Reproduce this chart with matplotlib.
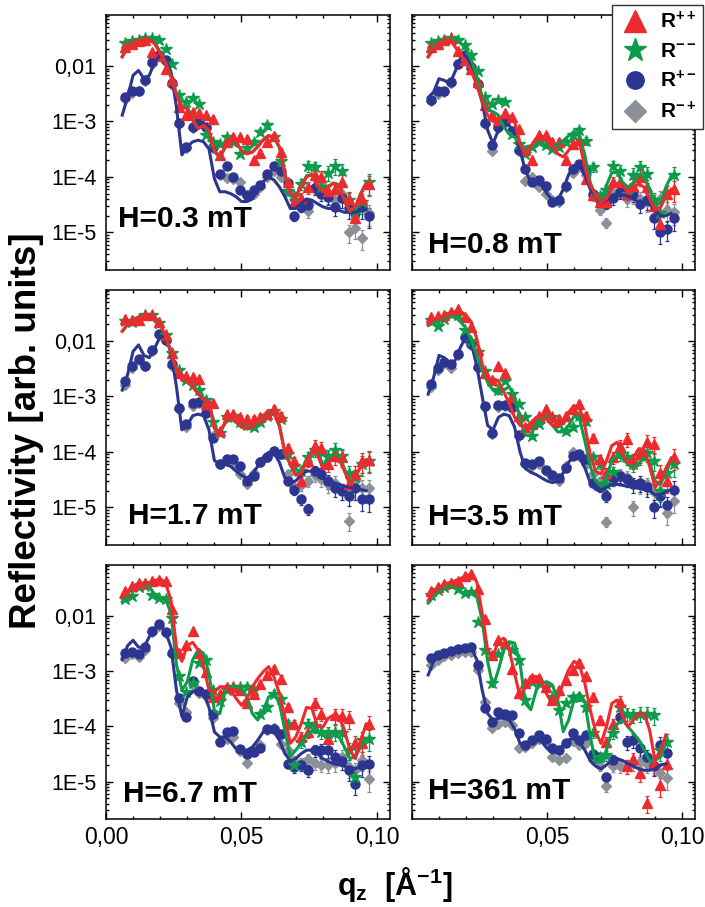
import numpy as np
import matplotlib
matplotlib.use('Agg')
from matplotlib import pyplot as plt
from matplotlib.lines import Line2D
from matplotlib.ticker import MultipleLocator, LogLocator, NullFormatter

plt.rcParams['font.family'] = ['Liberation Sans', 'DejaVu Sans']
plt.rcParams['mathtext.fontset'] = 'custom'
plt.rcParams['mathtext.rm'] = 'Liberation Sans'
plt.rcParams['mathtext.bf'] = 'Liberation Sans:bold'

nan = float('nan')

# measured q grid (data) and grid of the fitted curves
q = [0.0070, 0.0095, 0.0120, 0.0145, 0.0170, 0.0195, 0.0220, 0.0245, 0.0270, 0.0295,
     0.0320, 0.0345, 0.0370, 0.0395, 0.0420, 0.0445, 0.0470, 0.0495, 0.0520, 0.0545,
     0.0570, 0.0595, 0.0620, 0.0645, 0.0670, 0.0695, 0.0720, 0.0745, 0.0770, 0.0795,
     0.0820, 0.0845, 0.0870, 0.0895, 0.0920, 0.0945, 0.0970]
qf = [0.006, 0.008, 0.010, 0.012, 0.014, 0.016, 0.018, 0.020, 0.022, 0.024,
      0.026, 0.028, 0.030, 0.032, 0.034, 0.036, 0.038, 0.040, 0.042, 0.044,
      0.046, 0.048, 0.050, 0.052, 0.054, 0.056, 0.058, 0.060, 0.062, 0.064,
      0.066, 0.068, 0.070, 0.072, 0.074, 0.076, 0.078, 0.080, 0.082, 0.084,
      0.086, 0.088, 0.090, 0.092, 0.094, 0.096]
# relative error of the points
rel_err = [0.02, 0.02, 0.02, 0.02, 0.02, 0.02, 0.02, 0.02, 0.03, 0.03, 0.03, 0.03, 0.04,
           0.05, 0.06, 0.07, 0.08, 0.09, 0.10, 0.11, 0.12, 0.13, 0.14, 0.15, 0.17, 0.19,
           0.21, 0.23, 0.25, 0.27, 0.29, 0.31, 0.33, 0.35, 0.37, 0.39, 0.40]

fields = ['H=0.3 mT', 'H=0.8 mT', 'H=1.7 mT', 'H=3.5 mT', 'H=6.7 mT', 'H=361 mT']

########## H = 0.3 mT ##########
pp_1 = [2.2e-2, 2.5e-2, 2.8e-2, 3.0e-2, 1.8e-2, 1.5e-2, 9.0e-3, 5.5e-3, 1.8e-3, 1.3e-3, 1.5e-3, 1.4e-3, 1.3e-3, 1.1e-3, 2.5e-4, 4.2e-4, 5.3e-4, 5.3e-4, 4.8e-4, 2.0e-4, 2.7e-4, 4.2e-4, 5.5e-4, 2.8e-4, 8.0e-5, 3.5e-5, 4.2e-5, 6.5e-5, 1.1e-4, 1.0e-4, 5.5e-5, 6.0e-5, 8.0e-5, 4.0e-5, 1.8e-5, 4.0e-5, 7.5e-5]
mm_1 = [2.6e-2, 2.8e-2, 3.0e-2, 3.2e-2, 3.2e-2, 3.0e-2, 2.0e-2, 1.1e-2, 3.0e-3, 2.2e-3, 2.7e-3, 2.1e-3, 5.8e-4, 4.3e-4, 4.0e-4, 5.3e-4, 4.3e-4, 2.6e-4, 3.3e-4, 4.3e-4, 6.5e-4, 8.5e-4, 5.3e-4, 1.9e-4, 5.5e-5, 4.5e-5, 7.5e-5, 1.6e-4, 1.5e-4, 6.5e-5, 1.2e-4, 1.6e-4, 1.3e-4, 3.8e-5, 2.2e-5, 3.5e-5, 8.0e-5]
pm_1 = [2.8e-3, 3.5e-3, 3.5e-3, 5.5e-3, 1.2e-2, 1.6e-2, 1.3e-2, 4.9e-3, 9.3e-4, 3.5e-4, 8.1e-4, 1.0e-3, 8.1e-4, 3.5e-4, 1.15e-4, 1.6e-4, 1.0e-4, 5.8e-5, 4.7e-5, 5.8e-5, 7.1e-5, 1.15e-4, 1.6e-4, 1.3e-4, 7.8e-5, 2.0e-5, 2.9e-5, 3.1e-5, 6.2e-5, 5.0e-5, 4.4e-5, 2.9e-5, 4.1e-5, 2.7e-5, 2.2e-5, 2.9e-5, 2.0e-5]
mp_1 = [2.5e-3, 3.2e-3, 3.5e-3, 5.3e-3, 1.1e-2, 1.5e-2, 1.2e-2, 4.5e-3, 9.0e-4, 3.3e-4, 7.5e-4, 1.0e-3, 7.5e-4, 3.3e-4, 1.1e-4, 9.5e-5, 9.0e-5, 8.0e-5, 4.5e-5, 5.0e-5, 6.5e-5, 1.0e-4, 1.3e-4, 1.0e-4, 5.5e-5, 4.0e-5, 3.5e-5, 2.4e-5, 6.5e-5, 7.5e-5, 4.5e-5, 3.8e-5, 5.0e-5, 1.0e-5, 1.2e-5, 8.0e-6, 2.2e-5]
fit_pp_1 = [1.45e-2, 2.2e-2, 2.6e-2, 2.8e-2, 3.0e-2, 3.0e-2, 2.5e-2, 1.7e-2, 1.1e-2, 6.3e-3, 3.0e-3, 1.8e-3, 1.7e-3, 1.05e-3, 7.4e-4, 8.5e-4, 6.9e-4, 3.0e-4, 2.3e-4, 3.5e-4, 4.6e-4, 4.3e-4, 3.0e-4, 2.6e-4, 2.8e-4, 3.5e-4, 4.7e-4, 5.6e-4, 5.2e-4, 3.5e-4, 1.15e-4, 5.0e-5, 4.4e-5, 6.6e-5, 1.0e-4, 1.1e-4, 7.0e-5, 5.4e-5, 6.6e-5, 7.6e-5, 7.0e-5, 3.8e-5, 2.5e-5, 2.9e-5, 5.0e-5, 7.6e-5]
fit_mm_1 = [1.5e-2, 2.2e-2, 2.6e-2, 2.9e-2, 3.1e-2, 3.1e-2, 2.6e-2, 1.8e-2, 1.15e-2, 6.5e-3, 3.2e-3, 1.9e-3, 1.8e-3, 1.1e-3, 7.6e-4, 8.3e-4, 6.6e-4, 2.9e-4, 2.2e-4, 3.4e-4, 4.5e-4, 4.2e-4, 3.0e-4, 2.7e-4, 2.8e-4, 3.5e-4, 4.6e-4, 5.5e-4, 5.1e-4, 3.4e-4, 1.1e-4, 5.0e-5, 4.5e-5, 6.8e-5, 1.05e-4, 1.1e-4, 7.2e-5, 5.5e-5, 6.8e-5, 7.8e-5, 7.2e-5, 3.8e-5, 2.4e-5, 2.8e-5, 5.0e-5, 7.8e-5]
fit_pm_1 = [1.3e-3, 2.8e-3, 6.8e-3, 8.3e-3, 5.9e-3, 6.8e-3, 1.2e-2, 1.55e-2, 1.3e-2, 7.8e-3, 1.8e-3, 2.5e-4, 3.5e-4, 4.3e-4, 4.6e-4, 4.3e-4, 3.2e-4, 9.3e-5, 5.4e-5, 5.4e-5, 5.0e-5, 4.4e-5, 3.6e-5, 3.6e-5, 4.0e-5, 5.8e-5, 8.2e-5, 1.0e-4, 8.8e-5, 6.6e-5, 4.4e-5, 2.7e-5, 2.7e-5, 3.3e-5, 4.0e-5, 3.8e-5, 3.3e-5, 2.9e-5, 2.7e-5, 2.7e-5, 2.5e-5, 2.3e-5, 2.3e-5, 2.3e-5, 2.5e-5, 2.6e-5]

########## H = 0.8 mT ##########
pp_2 = [2.2e-2, 2.5e-2, 2.9e-2, 3.2e-2, 1.9e-2, 1.3e-2, 9.0e-3, 5.1e-3, 2.0e-3, 1.3e-3, 1.05e-3, 1.4e-3, 1.2e-3, 7.4e-4, 3.0e-4, 2.0e-4, 5.6e-4, 5.8e-4, 4.3e-4, 4.3e-4, 2.0e-4, 4.0e-4, 4.7e-4, 9.0e-5, 4.7e-5, 3.5e-5, 3.5e-5, 8.0e-5, 8.0e-5, 5.0e-5, 7.0e-5, 1.0e-4, 6.5e-5, 3.0e-5, 1.4e-5, 5.0e-5, 6.0e-5]
mm_2 = [2.6e-2, 2.8e-2, 3.0e-2, 3.2e-2, 2.9e-2, 2.4e-2, 1.6e-2, 8.0e-3, 2.8e-3, 2.1e-3, 2.4e-3, 2.2e-3, 6.0e-4, 4.0e-4, 2.6e-4, 3.5e-4, 4.3e-4, 3.7e-4, 3.2e-4, 3.5e-4, 4.3e-4, 5.6e-4, 7.0e-4, 4.5e-4, 1.5e-4, 4.5e-5, 5.8e-5, 1.6e-4, 1.3e-4, 5.0e-5, 1.1e-4, 1.5e-4, 1.15e-4, 3.8e-5, 2.2e-5, 5.0e-5, 1.1e-4]
pm_2 = [2.4e-3, 3.5e-3, 3.5e-3, 5.1e-3, 1.1e-2, 1.6e-2, 9.6e-3, 4.8e-3, 9.4e-4, 3.7e-4, 8.0e-4, 1.0e-3, 6.7e-4, 3.0e-4, 1.4e-4, 8.1e-5, 8.7e-5, 7.0e-5, 3.5e-5, 3.8e-5, 7.0e-5, 1.4e-4, 1.7e-4, 1.3e-4, 5.0e-5, 3.8e-5, 3.3e-5, 4.1e-5, 5.4e-5, 4.7e-5, 5.0e-5, 3.3e-5, 3.8e-5, 1.8e-5, 1.0e-5, 1.15e-5, 1.8e-5]
mp_2 = [2.3e-3, 3.1e-3, 3.4e-3, 5.0e-3, 1.1e-2, 1.5e-2, 9.0e-3, 4.5e-3, 9.0e-4, 2.9e-4, 7.5e-4, 9.5e-4, 6.5e-4, 2.9e-4, 8.5e-5, 1.0e-4, 6.5e-5, 5.0e-5, 3.8e-5, 3.5e-5, 6.5e-5, 1.2e-4, 1.5e-4, 1.1e-4, 4.5e-5, 2.5e-5, 1.5e-5, 5.0e-5, 5.5e-5, 4.0e-5, 4.5e-5, 4.0e-5, 3.5e-5, 3.5e-5, 4.0e-5, 2.5e-5, 2.3e-5]
fit_pp_2 = [1.45e-2, 2.0e-2, 2.5e-2, 2.8e-2, 3.0e-2, 2.2e-2, 1.6e-2, 1.2e-2, 8.0e-3, 4.5e-3, 2.3e-3, 1.3e-3, 1.0e-3, 1.1e-3, 1.3e-3, 1.25e-3, 1.0e-3, 4.0e-4, 2.5e-4, 3.5e-4, 5.0e-4, 5.5e-4, 4.5e-4, 3.5e-4, 2.6e-4, 2.3e-4, 3.0e-4, 4.0e-4, 4.2e-4, 1.5e-4, 7.0e-5, 5.0e-5, 3.5e-5, 4.0e-5, 6.5e-5, 7.5e-5, 7.0e-5, 5.5e-5, 6.5e-5, 7.5e-5, 6.5e-5, 4.0e-5, 2.5e-5, 2.8e-5, 4.5e-5, 6.0e-5]
fit_mm_2 = [1.5e-2, 2.2e-2, 2.6e-2, 2.9e-2, 3.1e-2, 3.1e-2, 2.6e-2, 2.0e-2, 1.3e-2, 6.5e-3, 2.8e-3, 1.6e-3, 1.5e-3, 1.3e-3, 8.0e-4, 6.0e-4, 5.2e-4, 4.0e-4, 3.2e-4, 3.7e-4, 4.0e-4, 4.0e-4, 3.8e-4, 3.6e-4, 3.8e-4, 4.5e-4, 5.5e-4, 6.5e-4, 5.5e-4, 2.5e-4, 8.0e-5, 4.5e-5, 3.8e-5, 7.0e-5, 1.2e-4, 1.2e-4, 8.0e-5, 6.5e-5, 8.0e-5, 1.1e-4, 1.0e-4, 6.0e-5, 3.0e-5, 3.5e-5, 6.5e-5, 1.05e-4]
fit_pm_2 = [2.7e-3, 3.4e-3, 5.9e-3, 5.5e-3, 4.8e-3, 8.0e-3, 1.4e-2, 1.5e-2, 1.0e-2, 5.0e-3, 2.2e-3, 7.0e-4, 4.0e-4, 7.0e-4, 9.0e-4, 8.5e-4, 6.0e-4, 3.0e-4, 1.3e-4, 8.0e-5, 8.0e-5, 7.0e-5, 5.0e-5, 3.8e-5, 3.8e-5, 6.0e-5, 1.1e-4, 1.6e-4, 1.6e-4, 1.1e-4, 6.0e-5, 4.5e-5, 3.5e-5, 3.8e-5, 4.5e-5, 5.0e-5, 4.8e-5, 4.5e-5, 4.0e-5, 3.5e-5, 3.5e-5, 3.2e-5, 2.5e-5, 2.0e-5, 2.0e-5, 2.2e-5]

########## H = 1.7 mT ##########
pp_3 = [2.5e-2, 2.4e-2, 2.4e-2, 3.0e-2, 3.0e-2, 2.2e-2, 1.3e-2, 6.2e-3, 2.7e-3, 2.3e-3, 2.2e-3, 2.1e-3, 7.3e-4, 7.5e-4, 2.4e-4, 4.8e-4, 4.8e-4, 4.2e-4, 4.0e-4, 4.0e-4, 4.3e-4, 4.8e-4, 6.0e-4, 4.5e-4, 1.2e-4, 6.8e-5, 3.0e-5, 7.0e-5, 1.3e-4, 1.2e-4, 6.0e-5, 8.5e-5, 8.0e-5, 2.6e-5, 4.0e-5, 6.8e-5, 7.3e-5]
mm_3 = [2.3e-2, 2.2e-2, 2.5e-2, 2.9e-2, 2.9e-2, 2.1e-2, 1.3e-2, 6.0e-3, 3.0e-3, 2.0e-3, 1.6e-3, 1.3e-3, 8.5e-4, 3.4e-4, 2.2e-4, 4.3e-4, 4.5e-4, 3.5e-4, 3.0e-4, 2.8e-4, 3.5e-4, 4.5e-4, 5.5e-4, 4.0e-4, 9.0e-5, 5.5e-5, 4.5e-5, 8.0e-5, 1.1e-4, 1.0e-4, 8.5e-5, 1.1e-4, 8.5e-5, 4.2e-5, 3.5e-5, 6.0e-5, 7.0e-5]
pm_3 = [1.9e-3, 3.6e-3, 4.8e-3, 3.6e-3, 6.8e-3, 1.35e-2, 1.05e-2, 3.8e-3, 6.2e-4, 3.2e-4, 7.5e-4, 8.0e-4, 5.0e-4, 1.8e-4, 6.0e-5, 7.4e-5, 7.4e-5, 5.6e-5, 3.0e-5, 3.7e-5, 6.5e-5, 8.0e-5, 1.05e-4, 9.0e-5, 3.0e-5, 2.1e-5, 1.4e-5, 9.5e-6, 4.5e-5, 4.0e-5, 3.0e-5, 2.2e-5, 2.0e-5, 1.6e-5, 2.2e-5, 1.4e-5, 1.4e-5]
mp_3 = [1.6e-3, 3.3e-3, 4.5e-3, 3.5e-3, 6.5e-3, 1.3e-2, 1.0e-2, 3.6e-3, 6.0e-4, 2.8e-4, 6.8e-4, 7.5e-4, 5.0e-4, 1.9e-4, 6.0e-5, 7.0e-5, 6.0e-5, 4.0e-5, 2.6e-5, 4.2e-5, 6.5e-5, 8.0e-5, 1.05e-4, 9.0e-5, 4.0e-5, 2.3e-5, 2.5e-5, 3.0e-5, 3.8e-5, 3.2e-5, 2.6e-5, 2.8e-5, 2.0e-5, 5.8e-6, 3.0e-5, 2.2e-5, 2.2e-5]
fit_pp_3 = [1.5e-2, 2.0e-2, 2.4e-2, 2.7e-2, 2.9e-2, 3.0e-2, 2.7e-2, 2.0e-2, 1.2e-2, 6.5e-3, 3.0e-3, 2.0e-3, 1.9e-3, 1.5e-3, 1.1e-3, 9.0e-4, 8.0e-4, 2.6e-4, 2.2e-4, 3.5e-4, 4.2e-4, 3.5e-4, 2.8e-4, 2.6e-4, 2.8e-4, 3.5e-4, 4.5e-4, 5.5e-4, 5.0e-4, 3.0e-4, 1.0e-4, 6.0e-5, 3.8e-5, 4.0e-5, 7.0e-5, 1.0e-4, 9.0e-5, 5.0e-5, 6.5e-5, 8.0e-5, 7.5e-5, 4.5e-5, 2.6e-5, 3.5e-5, 5.5e-5, 7.2e-5]
fit_mm_3 = [1.5e-2, 2.0e-2, 2.4e-2, 2.7e-2, 2.9e-2, 3.0e-2, 2.7e-2, 2.0e-2, 1.2e-2, 6.3e-3, 3.0e-3, 2.0e-3, 1.8e-3, 1.5e-3, 1.15e-3, 9.5e-4, 8.5e-4, 2.8e-4, 2.2e-4, 3.3e-4, 4.0e-4, 3.4e-4, 2.8e-4, 2.6e-4, 2.7e-4, 3.3e-4, 4.3e-4, 5.3e-4, 4.9e-4, 2.9e-4, 9.5e-5, 6.0e-5, 4.0e-5, 4.5e-5, 7.5e-5, 1.0e-4, 9.5e-5, 6.0e-5, 7.0e-5, 8.5e-5, 8.5e-5, 5.0e-5, 2.8e-5, 3.5e-5, 5.5e-5, 7.0e-5]
fit_pm_3 = [1.3e-3, 2.5e-3, 6.5e-3, 8.5e-3, 5.5e-3, 5.0e-3, 7.5e-3, 1.2e-2, 1.2e-2, 6.0e-3, 1.5e-3, 2.5e-4, 3.0e-4, 4.5e-4, 4.8e-4, 4.5e-4, 2.5e-4, 7.0e-5, 6.0e-5, 6.0e-5, 5.5e-5, 4.5e-5, 3.8e-5, 3.4e-5, 4.0e-5, 5.5e-5, 8.0e-5, 9.8e-5, 9.5e-5, 6.5e-5, 3.4e-5, 2.8e-5, 3.0e-5, 3.8e-5, 4.5e-5, 4.5e-5, 3.9e-5, 3.3e-5, 3.0e-5, 2.8e-5, 2.6e-5, 2.4e-5, 2.3e-5, 2.2e-5, 2.1e-5, 2.0e-5]

########## H = 3.5 mT ##########
pp_4 = [2.7e-2, 2.8e-2, 2.9e-2, 3.4e-2, 3.7e-2, 2.7e-2, 1.8e-2, 6.8e-3, 2.6e-3, 2.0e-3, 3.6e-3, 2.7e-3, 9.6e-4, 4.5e-4, 2.8e-4, 3.2e-4, 4.5e-4, 6.0e-4, 4.2e-4, 4.0e-4, 4.5e-4, 6.0e-4, 7.3e-4, 4.5e-4, 1.8e-4, 7.4e-5, 4.2e-5, 8.0e-5, 1.3e-4, 1.7e-4, 7.0e-5, 9.0e-5, 1.5e-4, 1.4e-4, 4.2e-5, 3.0e-5, 8.0e-5]
mm_4 = [2.4e-2, 1.9e-2, 2.5e-2, 3.1e-2, 2.9e-2, 1.6e-2, 1.0e-2, 6.3e-3, 2.9e-3, 1.9e-3, 1.3e-3, 1.9e-3, 1.1e-3, 7.3e-4, 4.2e-4, 1.9e-4, 3.2e-4, 4.5e-4, 4.2e-4, 3.2e-4, 2.4e-4, 2.8e-4, 4.5e-4, 3.6e-4, 8.0e-5, 6.0e-5, 2.6e-5, 4.3e-5, 9.0e-5, 8.0e-5, 6.0e-5, 8.5e-5, 9.7e-5, 7.0e-5, 2.0e-5, 4.2e-5, 6.0e-5]
pm_4 = [1.7e-3, 3.3e-3, 4.2e-3, 3.8e-3, 5.9e-3, 1.2e-2, 8.9e-3, 3.4e-3, 6.8e-4, 2.2e-4, 7.0e-4, 7.0e-4, 6.5e-4, 2.0e-4, 6.4e-5, 6.0e-5, 7.0e-5, 4.8e-5, 3.9e-5, 3.4e-5, 5.1e-5, 8.5e-5, 9.1e-5, 7.4e-5, 2.8e-5, 2.3e-5, 1.6e-5, 3.2e-5, 3.7e-5, 3.2e-5, 2.6e-5, 2.8e-5, 2.3e-5, 1.0e-5, 1.6e-5, 1.1e-5, 2.1e-5]
mp_4 = [1.5e-3, 3.0e-3, 4.0e-3, 3.2e-3, 5.5e-3, 1.15e-2, 8.5e-3, 3.2e-3, 6.5e-4, 2.1e-4, 6.5e-4, 6.8e-4, 6.0e-4, 1.9e-4, 6.0e-5, 5.5e-5, 6.0e-5, 4.5e-5, 3.5e-5, 3.0e-5, 5.5e-5, 1.0e-4, 8.5e-5, 6.0e-5, 4.0e-5, 3.0e-5, 5.5e-6, 3.5e-5, 4.0e-5, 3.5e-5, 1.0e-5, 2.5e-5, 2.6e-5, 1.9e-5, 1.7e-5, 8.0e-6, 1.3e-5]
fit_pp_4 = [2.0e-2, 2.4e-2, 2.6e-2, 2.8e-2, 3.0e-2, 3.4e-2, 3.4e-2, 2.9e-2, 2.2e-2, 1.1e-2, 3.8e-3, 2.0e-3, 2.1e-3, 1.9e-3, 1.2e-3, 7.5e-4, 4.2e-4, 3.0e-4, 2.8e-4, 3.3e-4, 4.2e-4, 4.5e-4, 3.8e-4, 3.0e-4, 2.9e-4, 3.8e-4, 5.2e-4, 6.8e-4, 6.5e-4, 3.0e-4, 9.0e-5, 4.5e-5, 4.0e-5, 6.9e-5, 1.3e-4, 1.5e-4, 9.0e-5, 6.2e-5, 8.0e-5, 1.15e-4, 1.1e-4, 5.5e-5, 2.3e-5, 3.0e-5, 5.0e-5, 7.8e-5]
fit_mm_4 = [1.9e-2, 2.1e-2, 2.3e-2, 2.6e-2, 2.8e-2, 2.7e-2, 2.2e-2, 1.7e-2, 1.0e-2, 5.5e-3, 3.0e-3, 1.8e-3, 1.3e-3, 1.1e-3, 1.3e-3, 1.5e-3, 1.0e-3, 4.0e-4, 2.0e-4, 2.0e-4, 3.2e-4, 4.2e-4, 4.0e-4, 3.0e-4, 2.3e-4, 2.3e-4, 3.0e-4, 4.4e-4, 4.0e-4, 1.6e-4, 5.5e-5, 3.0e-5, 2.4e-5, 3.5e-5, 7.0e-5, 8.5e-5, 7.5e-5, 6.0e-5, 5.2e-5, 6.2e-5, 7.8e-5, 6.5e-5, 3.0e-5, 2.6e-5, 4.2e-5, 6.9e-5]
fit_pm_4 = [1.1e-3, 2.2e-3, 5.5e-3, 5.0e-3, 3.6e-3, 4.5e-3, 7.8e-3, 1.2e-2, 9.0e-3, 3.5e-3, 1.0e-3, 3.0e-4, 2.5e-4, 4.2e-4, 4.8e-4, 4.5e-4, 2.8e-4, 1.0e-4, 5.0e-5, 4.3e-5, 3.9e-5, 3.4e-5, 3.0e-5, 2.8e-5, 3.0e-5, 4.2e-5, 6.5e-5, 8.5e-5, 7.8e-5, 5.2e-5, 2.8e-5, 2.1e-5, 2.0e-5, 2.3e-5, 2.6e-5, 2.6e-5, 2.5e-5, 2.4e-5, 2.3e-5, 2.2e-5, 2.1e-5, 2.0e-5, 1.7e-5, 1.7e-5, 1.9e-5, 2.1e-5]

########## H = 6.7 mT ##########
pp_5 = [2.8e-2, 3.4e-2, 3.9e-2, 4.0e-2, 4.3e-2, 4.5e-2, 4.3e-2, 1.35e-2, 2.1e-3, 3.0e-3, 5.3e-3, 2.1e-3, 9.7e-4, 3.4e-4, 3.9e-4, 5.2e-4, 5.2e-4, 4.5e-4, 2.6e-4, 3.9e-4, 5.9e-4, 8.4e-4, 1.1e-3, 7.3e-4, 2.2e-4, 1.1e-4, 6.4e-5, 8.0e-5, 2.6e-4, 1.7e-4, 6.0e-5, 1.6e-4, 1.55e-4, 1.4e-4, 4.9e-5, 4.9e-5, 1.1e-4]
mm_5 = [2.0e-2, 2.3e-2, 3.3e-2, 3.5e-2, 2.4e-2, 2.1e-2, 2.0e-2, 9.0e-3, 8.0e-4, 4.2e-4, 6.0e-4, 1.4e-3, 1.6e-3, 4.5e-4, 2.9e-4, 4.5e-4, 5.2e-4, 5.2e-4, 5.2e-4, 4.5e-4, 1.7e-4, 2.2e-4, 3.9e-4, 3.1e-4, 1.1e-4, 2.0e-5, 5.2e-5, 1.1e-4, 1.0e-4, 8.0e-5, 7.6e-5, 8.0e-5, 7.6e-5, 3.7e-5, 1.2e-5, 5.6e-5, 6.0e-5]
pm_5 = [2.1e-3, 2.2e-3, 2.0e-3, 2.7e-3, 5.3e-3, 7.1e-3, 5.1e-3, 2.1e-3, 3.2e-4, 1.5e-4, 6.6e-4, 4.4e-4, 3.9e-4, 1.7e-4, 5.2e-5, 7.9e-5, 8.3e-5, 3.9e-5, 3.2e-5, 3.4e-5, 4.1e-5, 9.0e-5, 9.0e-5, 7.4e-5, 2.1e-5, 1.8e-5, 2.0e-5, 1.6e-5, 3.7e-5, 3.7e-5, 3.8e-5, 2.8e-5, 2.4e-5, 1.6e-5, 9.1e-6, 2.0e-5, 2.1e-5]
mp_5 = [1.7e-3, 2.0e-3, 1.8e-3, 2.4e-3, 5.0e-3, 6.5e-3, 4.8e-3, 2.0e-3, 2.6e-4, 1.8e-4, 5.5e-4, 4.0e-4, 3.6e-4, 1.4e-4, 5.5e-5, 6.0e-5, 6.5e-5, 3.5e-5, 2.2e-5, 3.6e-5, 4.5e-5, 8.5e-5, 9.5e-5, 4.8e-5, 3.8e-5, 2.4e-5, 2.2e-5, 2.6e-5, 2.2e-5, 2.0e-5, 2.0e-5, 2.2e-5, 2.8e-5, 1.8e-5, 1.6e-5, 2.5e-5, 1.1e-5]
fit_pp_5 = [2.1e-2, 2.7e-2, 3.4e-2, 3.8e-2, 3.9e-2, 4.0e-2, 4.3e-2, 4.7e-2, 3.9e-2, 1.9e-2, 2.7e-3, 1.5e-3, 2.9e-3, 3.3e-3, 2.4e-3, 1.2e-3, 4.5e-4, 4.2e-4, 5.2e-4, 5.2e-4, 4.5e-4, 3.2e-4, 2.4e-4, 3.2e-4, 5.2e-4, 7.3e-4, 9.7e-4, 1.2e-3, 7.8e-4, 3.9e-4, 1.5e-4, 4.9e-5, 6.4e-5, 1.1e-4, 2.2e-4, 2.1e-4, 1.0e-4, 9.6e-5, 1.4e-4, 1.6e-4, 1.5e-4, 8.5e-5, 3.7e-5, 2.6e-5, 5.6e-5, 1.1e-4]
fit_mm_5 = [1.8e-2, 2.5e-2, 3.4e-2, 3.9e-2, 3.9e-2, 3.4e-2, 2.4e-2, 2.1e-2, 2.0e-2, 1.1e-2, 1.3e-3, 4.5e-4, 6.4e-4, 1.6e-3, 2.4e-3, 2.1e-3, 9.0e-4, 1.9e-4, 1.7e-4, 4.5e-4, 5.2e-4, 5.2e-4, 4.8e-4, 3.4e-4, 1.7e-4, 1.3e-4, 1.9e-4, 3.4e-4, 3.9e-4, 2.6e-4, 8.5e-5, 2.8e-5, 3.7e-5, 4.9e-5, 6.8e-5, 8.0e-5, 8.0e-5, 6.8e-5, 6.4e-5, 6.8e-5, 6.4e-5, 4.2e-5, 2.6e-5, 2.8e-5, 4.2e-5, 6.0e-5]
fit_pm_5 = [1.6e-3, 2.9e-3, 3.6e-3, 2.7e-3, 2.7e-3, 4.2e-3, 5.9e-3, 6.8e-3, 5.1e-3, 2.7e-3, 4.5e-4, 1.5e-4, 3.4e-4, 4.2e-4, 4.5e-4, 3.9e-4, 2.2e-4, 7.9e-5, 6.4e-5, 6.4e-5, 5.2e-5, 3.9e-5, 3.7e-5, 3.7e-5, 4.2e-5, 5.6e-5, 7.9e-5, 9.1e-5, 7.9e-5, 5.6e-5, 3.2e-5, 2.4e-5, 2.6e-5, 3.2e-5, 3.7e-5, 3.7e-5, 3.2e-5, 2.6e-5, 2.3e-5, 2.1e-5, 2.0e-5, 1.9e-5, 1.7e-5, 1.7e-5, 1.9e-5, 2.0e-5]

########## H = 361 mT ##########
pp_6 = [2.8e-2, 3.3e-2, 3.7e-2, 4.0e-2, 4.3e-2, 5.2e-2, 5.6e-2, 3.1e-2, 8.9e-3, 1.95e-3, 3.6e-3, 3.2e-3, 1.1e-3, 4.0e-4, 6.0e-4, 7.4e-4, 7.4e-4, 5.2e-4, 3.0e-4, 4.6e-4, 6.9e-4, 1.05e-3, 1.4e-3, 8.0e-4, 3.4e-4, 1.3e-4, 5.3e-5, 1.1e-4, 2.8e-4, 1.9e-5, 2.6e-5, 1.4e-5, 4.1e-6, 2.2e-5, 8.5e-6, 2.1e-5, nan]
mm_6 = [2.4e-2, 2.9e-2, 3.3e-2, 3.8e-2, 3.1e-2, 2.6e-2, 2.7e-2, 7.8e-3, 2.4e-3, 6.0e-4, 2.0e-3, 2.9e-3, 2.4e-3, 1.6e-3, 3.0e-4, 6.4e-4, 6.0e-4, 5.2e-4, 3.4e-4, 2.0e-4, 2.6e-4, 3.4e-4, 3.4e-4, 2.2e-4, 7.5e-5, 2.8e-5, 3.0e-5, 7.5e-5, 2.2e-4, 1.7e-4, 1.6e-4, 1.7e-4, 1.7e-4, 1.6e-4, 3.7e-5, 5.2e-5, nan]
pm_6 = [1.7e-3, 1.95e-3, 2.1e-3, 2.3e-3, 2.5e-3, 2.6e-3, 2.75e-3, 1.3e-3, 2.1e-4, 1.2e-4, 1.8e-4, 1.7e-4, 1.6e-4, 7.5e-5, 4.6e-5, 5.6e-5, 7.0e-5, 6.0e-5, 4.0e-5, 3.7e-5, 4.9e-5, 7.5e-5, 5.7e-5, 7.0e-5, 3.1e-5, 2.8e-5, 1.2e-5, 2.5e-5, 1.5e-4, 5.2e-5, 5.7e-5, 4.0e-5, 2.8e-5, 1.9e-5, 4.6e-5, 3.3e-5, nan]
mp_6 = [1.3e-3, 1.6e-3, 1.9e-3, 1.95e-3, 2.1e-3, 2.2e-3, 2.2e-3, 1.05e-3, 2.8e-4, 9.2e-5, 1.1e-4, 1.2e-4, 1.05e-4, 4.0e-5, 4.3e-5, 5.0e-5, 6.0e-5, 5.5e-5, 2.8e-5, 2.5e-5, 2.7e-5, 5.5e-5, 4.6e-5, 4.9e-5, 2.5e-5, 1.9e-5, 8.3e-6, 1.9e-5, 1.9e-5, 1.9e-5, 2.2e-5, 2.3e-5, 2.1e-5, 2.0e-5, 1.4e-5, 1.15e-5, nan]
fit_pp_6 = [1.9e-2, 2.7e-2, 3.2e-2, 3.7e-2, 4.0e-2, 4.3e-2, 4.7e-2, 5.4e-2, 5.6e-2, 4.1e-2, 1.1e-2, 2.4e-3, 1.8e-3, 3.6e-3, 3.9e-3, 2.4e-3, 9.1e-4, 3.4e-4, 5.2e-4, 8.0e-4, 8.0e-4, 6.0e-4, 3.7e-4, 2.6e-4, 3.2e-4, 6.0e-4, 1.05e-3, 1.5e-3, 1.3e-3, 6.0e-4, 2.0e-4, 8.0e-5, 4.9e-5, 9.8e-5, 2.6e-4, 3.0e-4, 1.5e-4, 9.8e-5, 1.3e-4, 1.7e-4, 1.7e-4, 8.5e-5, 2.4e-5, 3.5e-5, 7.0e-5, nan]
fit_mm_6 = [1.7e-2, 2.2e-2, 2.7e-2, 3.2e-2, 3.4e-2, 3.2e-2, 2.7e-2, 2.5e-2, 2.7e-2, 2.2e-2, 8.3e-3, 1.5e-3, 5.2e-4, 1.05e-3, 2.4e-3, 3.4e-3, 3.2e-3, 1.4e-3, 2.6e-4, 2.0e-4, 4.5e-4, 6.0e-4, 6.4e-4, 5.6e-4, 3.0e-4, 8.0e-5, 1.3e-4, 3.0e-4, 4.0e-4, 2.8e-4, 6.6e-5, 2.2e-5, 2.3e-5, 3.7e-5, 8.0e-5, 1.1e-4, 1.3e-4, 9.8e-5, 7.5e-5, 5.7e-5, 3.7e-5, 2.4e-5, 2.4e-5, 2.8e-5, 5.2e-5, nan]
fit_pm_6 = [8.5e-4, 1.5e-3, 1.95e-3, 2.1e-3, 2.2e-3, 2.4e-3, 2.5e-3, 2.6e-3, 2.6e-3, 1.6e-3, 4.5e-4, 1.7e-4, 1.3e-4, 1.4e-4, 1.4e-4, 1.3e-4, 9.0e-5, 4.9e-5, 4.6e-5, 5.2e-5, 5.7e-5, 5.2e-5, 4.0e-5, 3.3e-5, 3.5e-5, 4.6e-5, 5.7e-5, 6.0e-5, 5.2e-5, 3.7e-5, 2.4e-5, 1.9e-5, 1.7e-5, 2.0e-5, 2.4e-5, 2.6e-5, 2.4e-5, 2.1e-5, 1.9e-5, 1.7e-5, 1.6e-5, 1.6e-5, 1.7e-5, 2.0e-5, 2.1e-5, nan]

data = [(pp_1, mm_1, pm_1, mp_1, fit_pp_1, fit_mm_1, fit_pm_1),
        (pp_2, mm_2, pm_2, mp_2, fit_pp_2, fit_mm_2, fit_pm_2),
        (pp_3, mm_3, pm_3, mp_3, fit_pp_3, fit_mm_3, fit_pm_3),
        (pp_4, mm_4, pm_4, mp_4, fit_pp_4, fit_mm_4, fit_pm_4),
        (pp_5, mm_5, pm_5, mp_5, fit_pp_5, fit_mm_5, fit_pm_5),
        (pp_6, mm_6, pm_6, mp_6, fit_pp_6, fit_mm_6, fit_pm_6)]

red = '#ed2a2d'
green = '#0d9c4b'
blue = '#2c3590'
grey = '#8b9197'

# position of field label in each panel (axes fraction)
label_pos = [(0.042, 0.20), (0.057, 0.10), (0.077, 0.115), (0.057, 0.11), (0.06, 0.10), (0.057, 0.11)]

W, H = 705, 907
fig = plt.figure(figsize=(W / 100, H / 100), dpi=100)
cols = [(106, 284), (412, 283)]
rows = [(15, 255), (290, 255), (565, 254)]

err = np.array(rel_err)
for i in range(6):
    r, c = i // 2, i % 2
    x0, w = cols[c]
    y0, h = rows[r]
    ax = fig.add_axes([x0 / W, 1 - (y0 + h) / H, w / W, h / H])
    pp, mm, pm, mp, fpp, fmm, fpm = [np.array(a) for a in data[i]]

    for vals, mk, col, ms in [(mp, 'D', grey, 5.5), (pm, 'o', blue, 6.5),
                              (mm, '*', green, 9), (pp, '^', red, 7.5)]:
        ax.errorbar(q, vals, yerr=vals * err, fmt=mk, color=col, ms=ms, mec=col,
                    elinewidth=0.9, capsize=1.5, capthick=0.9, zorder=3)
    ax.plot(qf, fpm, color=blue, lw=2.2, zorder=4)
    ax.plot(qf, fmm, color=green, lw=2.2, zorder=4)
    ax.plot(qf, fpp, color=red, lw=2.2, zorder=5)

    ax.set_yscale('log')
    ax.set_xlim(0, 0.1048)
    ax.set_ylim(2.1e-6, 0.083)
    ax.set_yticks([1e-5, 1e-4, 1e-3, 1e-2])
    ax.yaxis.set_minor_locator(LogLocator(base=10, subs=range(2, 10)))
    ax.yaxis.set_minor_formatter(NullFormatter())
    if c == 0:
        ax.set_yticklabels(['1E-5', '1E-4', '1E-3', '0,01'], fontsize=15.5)
    else:
        ax.set_yticklabels([])
    ax.set_xticks([0.0, 0.05, 0.10])
    ax.xaxis.set_minor_locator(MultipleLocator(0.01))
    if r == 2:
        if c == 0:
            ax.set_xticklabels(['0,00', '0,05', '0,10'], fontsize=16.5)
        else:
            ax.set_xticklabels(['', '0,05', '0,10'], fontsize=16.5)
    else:
        ax.set_xticklabels([])
    ax.tick_params(which='both', direction='in', top=True, right=True, width=1)
    ax.tick_params(which='major', length=5)
    ax.tick_params(axis='y', which='major', pad=7)
    ax.tick_params(axis='x', which='major', pad=5)
    ax.tick_params(which='minor', length=2.5)
    for s in ax.spines.values():
        s.set_linewidth(1.1)

    lx, ly = label_pos[i]
    ax.text(lx, ly, fields[i], transform=ax.transAxes, fontsize=21.5,
            fontweight='bold', ha='left', va='center', zorder=6)

fig.text(27 / W, 1 - 431 / H, 'Reflectivity [arb. units]', rotation=90,
         fontsize=26.5, fontweight='bold', ha='center', va='center')
fig.text(395 / W, 1 - 885 / H, r'$\mathbf{q_z}$  [Å$^{\mathbf{-1}}$]',
         fontsize=22, fontweight='bold', ha='center', va='center')

handles = [Line2D([], [], ls='', marker='^', color=red, ms=16),
           Line2D([], [], ls='', marker='*', color=green, ms=17),
           Line2D([], [], ls='', marker='o', color=blue, ms=12.5),
           Line2D([], [], ls='', marker='D', color=grey, ms=11)]
labels = [r'$\mathbf{R^{++}}$', r'$\mathbf{R^{--}}$', r'$\mathbf{R^{+-}}$', r'$\mathbf{R^{-+}}$']
leg = fig.legend(handles, labels, loc='upper left', bbox_to_anchor=(612 / W, 1 - 5 / H),
                 fontsize=15, frameon=True, fancybox=False, edgecolor='#333333',
                 framealpha=1, handlelength=1.6, handletextpad=0.4, labelspacing=0.45,
                 borderpad=0.3, borderaxespad=0)
leg.get_frame().set_linewidth(1.0)

fig.savefig('out.png', dpi=100)
